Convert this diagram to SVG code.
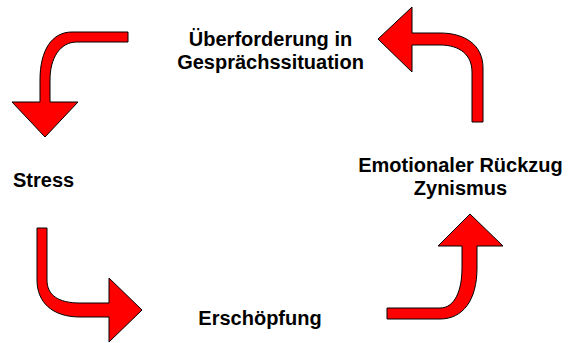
<svg xmlns="http://www.w3.org/2000/svg" width="578" height="343" viewBox="0 0 578 343">
<style>
.lbl{font-family:"Liberation Sans",Arial,sans-serif;font-weight:bold;font-size:20px;fill:#000}
.arr{fill:#FF0000;stroke:#000;stroke-width:1;stroke-linejoin:miter}
</style>
<rect width="578" height="343" fill="#fff"/>
<g id="connectors">
<path class="arr" d="M128,32 L72,32 C52,32 40,50 40,80 L40,102 L12,102 L45,137 L78,102 L50,102 L50,80 C50,58 60,42 77,42 L128,42 Z"/>
<path class="arr" d="M378,39 L412,7 L412,33 L440,33 C465,33 483,45 483,68 L483,122 L472,122 L472,72 C472,55 460,45 440,45 L412,45 L412,72 Z"/>
<path class="arr" d="M37,228 L47,228 L47,280 C47,295 58,303 80,303 L109,303 L109,278 L142,310 L109,342 L109,317 L80,317 C52,317 37,302 37,280 Z"/>
<path class="arr" d="M387,308 L440,308 C455,308 462,290 462,268 L462,246 L438,246 L470,214 L503,246 L477,246 L477,268 C477,300 463,319 440,319 L387,319 Z"/>
</g>
<g id="ueberforderung">
<text class="lbl" x="270.5" y="46" text-anchor="middle">Überforderung in</text>
<text class="lbl" x="270.5" y="69" text-anchor="middle">Gesprächssituation</text>
</g>
<g id="stress">
<text class="lbl" x="13" y="187">Stress</text>
</g>
<g id="rueckzug">
<text class="lbl" x="460.5" y="172" text-anchor="middle">Emotionaler Rückzug</text>
<text class="lbl" x="460.5" y="195" text-anchor="middle">Zynismus</text>
</g>
<g id="erschoepfung">
<text class="lbl" x="260" y="325" text-anchor="middle">Erschöpfung</text>
</g>
</svg>
